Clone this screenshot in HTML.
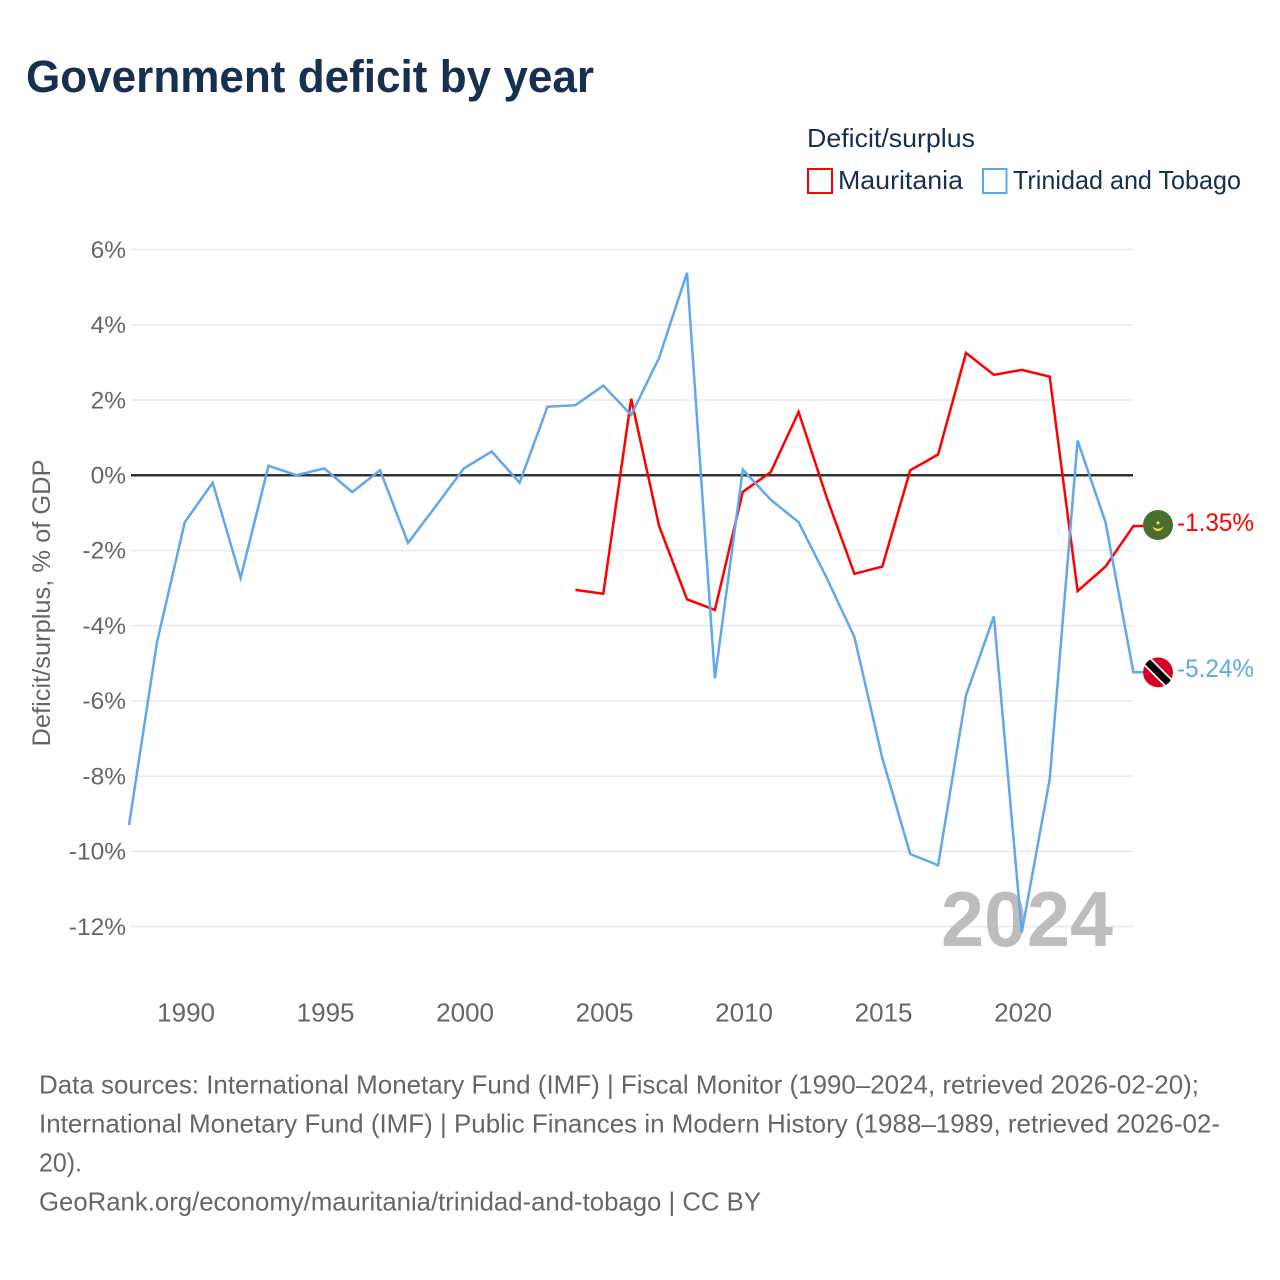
<!DOCTYPE html>
<html lang="en">
<head>
<meta charset="utf-8">
<title>Government deficit by year</title>
<style>
html,body{margin:0;padding:0;background:#fff;width:1280px;height:1280px;overflow:hidden}
svg{display:block}
text{font-family:"Liberation Sans",sans-serif}
</style>
</head>
<body>
<svg id="chart" xmlns="http://www.w3.org/2000/svg" width="1280" height="1280" viewBox="0 0 1280 1280">
  <rect x="0" y="0" width="1280" height="1280" fill="#fff"/>
  <text x="26" y="92" font-size="45" font-weight="700" fill="#17304f" textLength="568" lengthAdjust="spacingAndGlyphs">Government deficit by year</text>

  <g>
    <text x="807" y="147" font-size="26" fill="#17304f" textLength="168" lengthAdjust="spacingAndGlyphs">Deficit/surplus</text>
    <g>
      <rect x="808" y="169" width="24" height="24" fill="#fff" stroke="#ff0000" stroke-width="2"/>
      <text x="838" y="189" font-size="26" fill="#17304f" textLength="125" lengthAdjust="spacingAndGlyphs">Mauritania</text>
    </g>
    <g>
      <rect x="983" y="169" width="23.5" height="24" fill="#fff" stroke="#5fa8ec" stroke-width="2"/>
      <text x="1013" y="189" font-size="26" fill="#17304f" textLength="228" lengthAdjust="spacingAndGlyphs">Trinidad and Tobago</text>
    </g>
  </g>

  <text transform="translate(50 603) rotate(-90)" text-anchor="middle" font-size="25" fill="#666" textLength="287" lengthAdjust="spacingAndGlyphs">Deficit/surplus, % of GDP</text>

  <g id="y-grid"></g>
  <g id="y-ticks"></g>
  <g id="x-ticks"></g>

  <text x="941" y="946" font-size="78" font-weight="700" fill="#bdbdbd" textLength="172" lengthAdjust="spacingAndGlyphs">2024</text>

  <g id="series"></g>
  <g id="end-labels"></g>

  <g font-size="26" fill="#666">
    <text x="39" y="1093.5" textLength="1160" lengthAdjust="spacingAndGlyphs">Data sources: International Monetary Fund (IMF) | Fiscal Monitor (1990–2024, retrieved 2026-02-20);</text>
    <text x="39" y="1132.5" textLength="1181" lengthAdjust="spacingAndGlyphs">International Monetary Fund (IMF) | Public Finances in Modern History (1988–1989, retrieved 2026-02-</text>
    <text x="39" y="1171.5" textLength="43" lengthAdjust="spacingAndGlyphs">20).</text>
    <text x="39" y="1210.5" textLength="722" lengthAdjust="spacingAndGlyphs">GeoRank.org/economy/mauritania/trinidad-and-tobago | CC BY</text>
  </g>
</svg>
<script>
const yTickValues = [6, 4, 2, 0, -2, -4, -6, -8, -10, -12];
const xTickYears = [1990, 1995, 2000, 2005, 2010, 2015, 2020];
const trinidadYears = [1988,1989,1990,1991,1992,1993,1994,1995,1996,1997,1998,1999,2000,2001,2002,2003,2004,2005,2006,2007,2008,2009,2010,2011,2012,2013,2014,2015,2016,2017,2018,2019,2020,2021,2022,2023,2024];
const trinidadValues = [-9.3,-4.45,-1.25,-0.2,-2.73,0.25,0,0.18,-0.45,0.13,-1.8,-0.82,0.18,0.63,-0.2,1.82,1.86,2.38,1.6,3.12,5.38,-5.4,0.15,-0.65,-1.25,-2.72,-4.3,-7.52,-10.07,-10.37,-5.85,-3.75,-12.15,-8.08,0.92,-1.25,-5.24];
const mauritaniaYears = [2004,2005,2006,2007,2008,2009,2010,2011,2012,2013,2014,2015,2016,2017,2018,2019,2020,2021,2022,2023,2024];
const mauritaniaValues = [-3.05,-3.15,2.03,-1.35,-3.3,-3.58,-0.44,0.08,1.68,-0.58,-2.62,-2.43,0.13,0.55,3.25,2.67,2.8,2.62,-3.08,-2.43,-1.35];

const NS = 'http://www.w3.org/2000/svg';
const xScale = function (year) { return 129 + (year - 1988) * 27.9; };
const yScale = function (value) { return 475.2 - value * 37.62; };
const RED = '#ff0000';
const BLUE = '#5fa8ec';

function make(tag, attrs, parent) {
  const el = document.createElementNS(NS, tag);
  Object.keys(attrs).forEach(function (k) { el.setAttribute(k, attrs[k]); });
  parent.appendChild(el);
  return el;
}

const grid = document.getElementById('y-grid');
const yTicks = document.getElementById('y-ticks');
yTickValues.forEach(function (v) {
  const zero = v === 0;
  const line = make('line', { x1: 131, x2: 1133, y1: yScale(v), y2: yScale(v), stroke: zero ? '#333' : '#e9e9e9', 'stroke-width': zero ? 2.5 : 1.5 }, grid);
  
  
  const label = make('text', { x: 126, y: yScale(v) + 8.3, 'text-anchor': 'end', 'font-size': 24.5, fill: '#666' }, yTicks);
  label.textContent = v + '%';
  
  
});

const xTicks = document.getElementById('x-ticks');
xTickYears.forEach(function (year) {
  const label = make('text', { x: xScale(year) + 1.3, y: 1021.5, 'text-anchor': 'middle', 'font-size': 26, fill: '#666' }, xTicks);
  label.textContent = String(year);
  
  
});

function drawSeries(years, values, color) {
  const pts = years.map(function (y, i) { return xScale(y).toFixed(1) + ',' + yScale(values[i]).toFixed(1); });
  const lastY = yScale(values[values.length - 1]);
  pts.push('1143,' + lastY.toFixed(1));
  return make('polyline', { points: pts.join(' '), fill: 'none', stroke: color, 'stroke-width': 2.5, 'stroke-linejoin': 'miter' }, document.getElementById('series'));
}
const redLine = drawSeries(mauritaniaYears, mauritaniaValues, RED);


const blueLine = drawSeries(trinidadYears, trinidadValues, BLUE);



const endLabels = document.getElementById('end-labels');
const cx = 1158;

const mY = yScale(mauritaniaValues[mauritaniaValues.length - 1]) - 1;
const mFlag = make('g', {}, endLabels);


make('circle', { cx: cx, cy: mY, r: 15, fill: '#496e2d' }, mFlag);
make('path', { d: 'M' + (cx - 5.5) + ' ' + (mY + 0.5) + 'a5.5 5.5 0 0 0 11 0a5.5 3.2 0 0 1 -11 0z', fill: '#ffda44' }, mFlag);
make('path', { d: 'M' + cx + ' ' + (mY - 4.6) + 'l0.7 1.6 1.6 0.2-1.2 1.1 0.3 1.6-1.4-0.8-1.4 0.8 0.3-1.6-1.2-1.1 1.6-0.2z', fill: '#ffda44' }, mFlag);
const mText = make('text', { x: 1177, y: mY + 6, 'font-size': 25, fill: RED, textLength: 77, lengthAdjust: 'spacingAndGlyphs' }, endLabels);
mText.textContent = mauritaniaValues[mauritaniaValues.length - 1].toFixed(2) + '%';



const tY = yScale(trinidadValues[trinidadValues.length - 1]);
const tFlag = make('g', {}, endLabels);


const clip = make('clipPath', { id: 'tt-clip' }, tFlag);
make('circle', { cx: cx, cy: tY, r: 15 }, clip);
const tInner = make('g', { 'clip-path': 'url(#tt-clip)' }, tFlag);
make('circle', { cx: cx, cy: tY, r: 15, fill: '#d80027' }, tInner);
make('line', { x1: cx - 15, y1: tY - 15, x2: cx + 15, y2: tY + 15, stroke: '#fff', 'stroke-width': 10.5 }, tInner);
make('line', { x1: cx - 15, y1: tY - 15, x2: cx + 15, y2: tY + 15, stroke: '#000', 'stroke-width': 7 }, tInner);
const tText = make('text', { x: 1177, y: tY + 4.5, 'font-size': 25, fill: BLUE, textLength: 77, lengthAdjust: 'spacingAndGlyphs' }, endLabels);
tText.textContent = trinidadValues[trinidadValues.length - 1].toFixed(2) + '%';


</script>
</body>
</html>
